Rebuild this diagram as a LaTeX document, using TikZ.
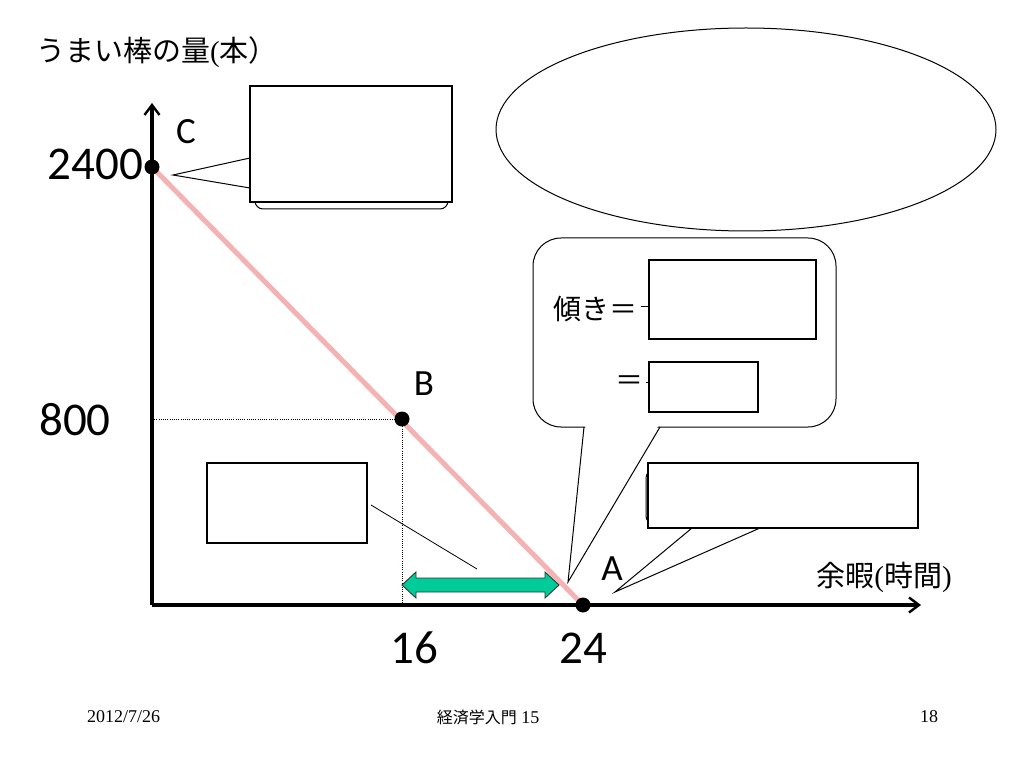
\documentclass[tikz,border=0pt]{standalone}
\usepackage{fontspec}
\setmainfont{Carlito}
\newfontfamily\jp{Noto Sans CJK JP}
\newfontfamily\tms{Liberation Serif}
\usetikzlibrary{arrows.meta}
\definecolor{pinkline}{RGB}{245,178,178}
\definecolor{greenarrow}{RGB}{0,204,153}
\tikzset{
  axisline/.style={line width=3.2pt, -{Straight Barb[length=10pt,width=15pt,line width=2.4pt]}},
  dot/.style={circle, fill=black, inner sep=0pt, minimum size=15pt},
  budget/.style={line width=5pt, pinkline},
  guide/.style={line width=0.8pt, dash pattern=on 1pt off 1.2pt},
  thin/.style={line width=1pt},
  box/.style={draw, line width=1.3pt, fill=white, inner sep=0pt},
  num/.style={font=\fontsize{47}{50}\selectfont, inner sep=0pt},
  letter/.style={font=\fontsize{37}{40}\selectfont, inner sep=0pt},
  foot/.style={font=\tms\fontsize{18}{20}\selectfont, inner sep=0pt}
}
\begin{document}
\begin{tikzpicture}[x=1pt,y=-1pt]
\fill[white] (0,0) rectangle (1023,767);
\useasboundingbox (0,0) rectangle (1023,767);

% title
\node[anchor=west, inner sep=0pt, font=\fontsize{29}{32}\selectfont] (title) at (36,52)
  {{\jp うまい棒の量}{\tms (}{\jp 本）}};

% axes
\coordinate (O) at (152,605);
\coordinate (ytop) at (152,103);
\coordinate (xend) at (921,605);
\draw[axisline] (O) -- (ytop);
\draw[axisline] (O) -- (xend);

% points
\coordinate (c) at (152,167);
\coordinate (b) at (402,419);
\coordinate (a) at (583,605);
\coordinate (yb) at (152,419);
\coordinate (xb) at (402,605);
\draw[guide] (yb) -- (b) -- (xb);
\draw[budget] (c) -- (a);
\node[dot] (C) at (c) {};
\node[dot] (B) at (b) {};
\node[dot] (A) at (a) {};

\node[letter] (lC) at (186,132) {C};
\node[letter] (lB) at (424,384) {B};
\node[letter] (lA) at (612,569) {A};

\node[num, anchor=east] (n2400) at (143,164) {2400};
\node[num, anchor=east] (n800) at (111,420) {800};
\node[num] (n16) at (414,648) {16};
\node[num] (n24) at (583,648) {24};

\node[anchor=east, inner sep=0pt, font=\fontsize{29}{32}\selectfont] (xlab) at (952,577)
  {{\jp 余暇}{\tms (}{\jp 時間}{\tms )}};

% ellipse
\draw[thin] (746,129.5) ellipse [x radius=250, y radius=101.5];

% top-left callout
\draw[thin, rounded corners=8pt] (255,95) rectangle (448,209);
\coordinate (tlTip) at (173,175);
\draw[thin] (250,158) -- (tlTip) -- (250,188);
\node[box, minimum width=202pt, minimum height=116pt] (tlbox) at (351,144) {};

% speech bubble
\draw[thin, rounded corners=28pt, fill=white] (533,238) rectangle (836,427);
\coordinate (bTip) at (568,582);
\fill[white] (585.5,425.5) -- (658.5,425.5) -- (bTip) -- cycle;
\draw[thin] (584,427) -- (bTip) -- (660,427);
\node[box, minimum width=167pt, minimum height=79pt] (sbox1) at (732.5,299.5) {};
\node[box, minimum width=109pt, minimum height=50pt] (sbox2) at (703.5,387) {};
\node[anchor=east, inner sep=0pt, font=\jp\fontsize{28}{30}\selectfont] (slope) at (638,309) {傾き＝};
\node[inner sep=0pt, font=\jp\fontsize{28}{30}\selectfont] (eq2) at (629,383) {＝};
\draw[line width=0.8pt] (641,306) -- (sbox1.west |- 0,306);
\draw[line width=0.8pt] (646,382) -- (sbox2.west |- 0,382);

% bottom-right callout
\draw[thin, rounded corners=8pt] (646,470) rectangle (916,524);
\coordinate (brTip) at (615,592);
\draw[thin] (692,528) -- (brTip) -- (760,528);
\node[box, minimum width=270pt, minimum height=65pt] (brbox) at (783,495.5) {};

% bottom-left box with line callout
\node[box, minimum width=160pt, minimum height=80pt] (blbox) at (287,503) {};
\coordinate (blA) at (371,505);
\coordinate (blB) at (477,569);
\draw[line width=0.8pt] (blA) -- (blB);

% green double arrow
\draw[fill=greenarrow, line width=0.9pt, draw=black!80]
  (402,585) -- (416,572) -- (416,578) -- (545,578) -- (545,572) -- (559,585)
  -- (545,598) -- (545,592) -- (416,592) -- (416,598) -- cycle;

% footer
\node[foot, anchor=west] (date) at (87,717) {2012/7/26};
\node[foot] (course) at (488,717) {{\jp\fontsize{16}{20}\selectfont 経済学入門} 15};
\node[foot] (page) at (929,717) {18};
\end{tikzpicture}
\end{document}
